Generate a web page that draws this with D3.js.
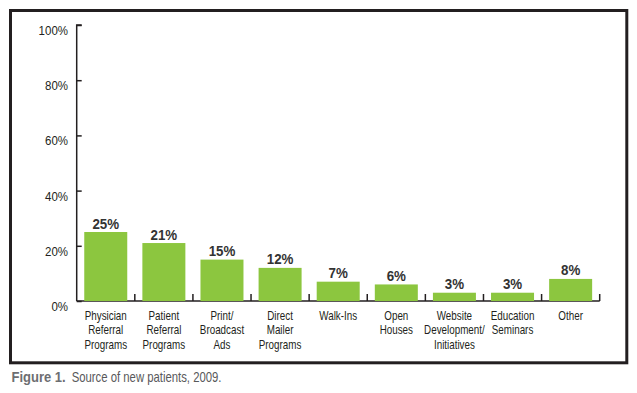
<!DOCTYPE html>
<html><head><meta charset="utf-8">
<script src="https://cdn.jsdelivr.net/npm/d3@7"></script>
<style>
html,body{margin:0;padding:0;background:#fff;}
svg{display:block;}
</style></head>
<body>
<svg id="chart" width="637" height="393"></svg>
<script>
const categories = [
  ["Physician","Referral","Programs"],
  ["Patient","Referral","Programs"],
  ["Print/","Broadcast","Ads"],
  ["Direct","Mailer","Programs"],
  ["Walk-Ins"],
  ["Open","Houses"],
  ["Website","Development/","Initiatives"],
  ["Education","Seminars"],
  ["Other"]
];
const values = [25, 21, 15, 12, 7, 6, 3, 3, 8];
const yTicks = [0, 20, 40, 60, 80, 100];
const captionBold = "Figure 1.";
const captionText = "Source of new patients, 2009.";

const svg = d3.select("#chart");
const sans = "'Liberation Sans',Arial,sans-serif";
const SX = 0.82; // horizontal condensing

// frame
svg.append("rect").attr("x",10.5).attr("y",10.5).attr("width",616.3).attr("height",352.3)
  .attr("fill","none").attr("stroke","#231f20").attr("stroke-width",3);

const x0 = 76.7, x1 = 599.7, yTop = 25, yBot = 301;
const idx = d3.range(values.length);
const xb = d3.scaleBand().domain(idx).range([x0, x1]);
const y = d3.scaleLinear().domain([0,100]).range([yBot, yTop]);
const cx = i => xb(i) + xb.bandwidth()/2;

// y axis
const yAxis = d3.axisRight(y).tickValues(yTicks).tickSize(5).tickFormat(() => "");
const gy = svg.append("g").attr("transform",`translate(${x0},0)`).call(yAxis);
gy.select(".domain").attr("stroke","#231f20").attr("stroke-width",1.5).attr("d",`M5,${yTop}H0V${yBot}`);
gy.selectAll(".tick line").attr("stroke","#231f20").attr("stroke-width",1.5);
svg.append("g").selectAll("g").data(yTicks).join("g")
  .attr("transform",d=>`translate(68,${y(d)+10}) scale(0.92,1)`)
  .append("text").attr("text-anchor","end")
  .attr("font-family",sans).attr("font-size",12.5).attr("fill","#231f20")
  .text(d=>d+"%");

// x axis baseline with ticks between categories
const tickPos = idx.map(i => xb(i) + xb.bandwidth());
svg.append("line").attr("x1",x0).attr("x2",x1).attr("y1",yBot).attr("y2",yBot)
  .attr("stroke","#231f20").attr("stroke-width",1.5);
svg.append("g").selectAll("line").data(tickPos).join("line")
  .attr("x1",d=>d).attr("x2",d=>d).attr("y1",yBot).attr("y2",yBot-7)
  .attr("stroke","#231f20").attr("stroke-width",1.5);

// bars
svg.append("g").selectAll("rect").data(values).join("rect")
  .attr("x",(d,i)=>cx(i) - 21.5)
  .attr("width",43)
  .attr("y",d=>y(d)).attr("height",d=>yBot - y(d))
  .attr("fill","#8cc63f");

// value labels
svg.append("g").selectAll("g").data(values).join("g")
  .attr("transform",(d,i)=>`translate(${cx(i)},${y(d)-3.5}) scale(0.92,1)`)
  .append("text").attr("text-anchor","middle")
  .attr("font-family",sans).attr("font-weight","bold").attr("font-size",14.5)
  .attr("fill","#333").text(d=>d+"%");

// category labels
const cl = svg.append("g").selectAll("g").data(categories).join("g")
  .attr("transform",(d,i)=>`translate(${cx(i)},319.5) scale(${SX},1)`)
  .append("text").attr("text-anchor","middle")
  .attr("font-family",sans).attr("font-size",12).attr("fill","#231f20");
cl.selectAll("tspan").data(d=>d).join("tspan")
  .attr("x",0).attr("dy",(d,i)=> i===0 ? 0 : 15).text(d=>d);

// caption
svg.append("g").attr("transform","translate(11.5,381.5) scale(0.93,1)")
  .append("text").attr("font-family",sans).attr("font-size",14)
  .attr("font-weight","bold").attr("fill","#6d6e71").text(captionBold);
svg.append("g").attr("transform","translate(71.7,381.5) scale(0.81,1)")
  .append("text").attr("font-family",sans).attr("font-size",14)
  .attr("fill","#58595b").text(captionText);
</script>
</body></html>
